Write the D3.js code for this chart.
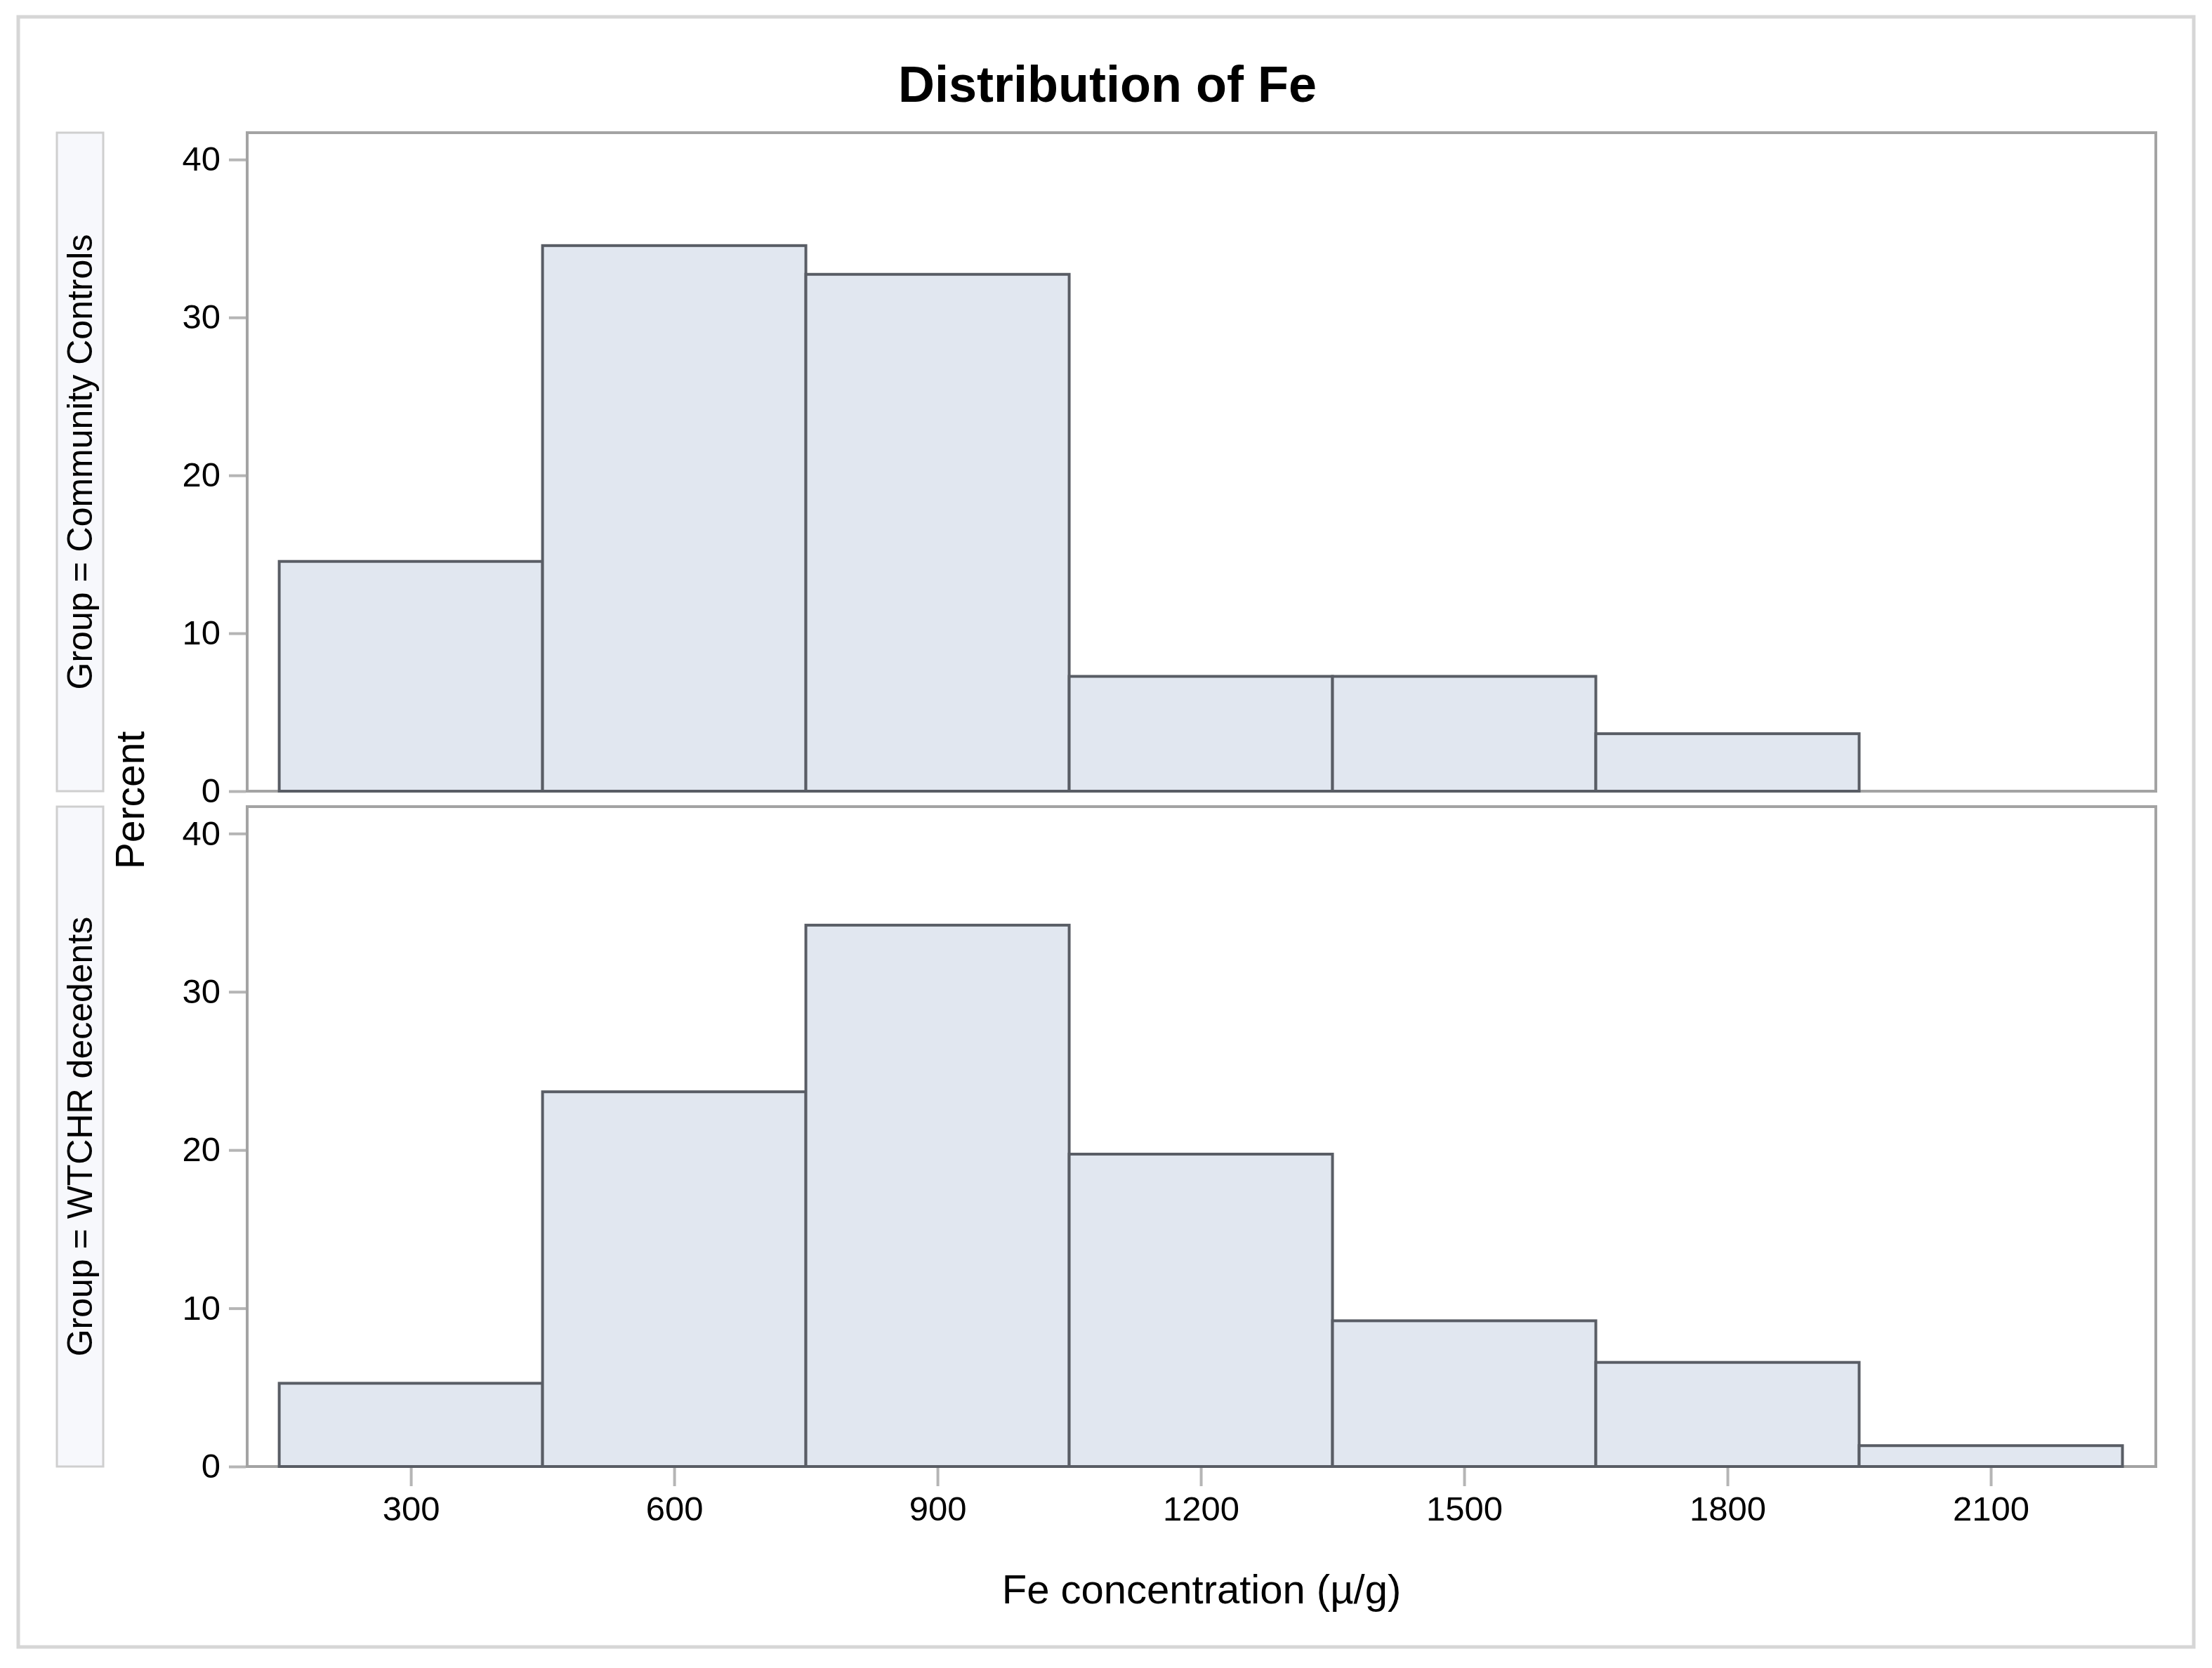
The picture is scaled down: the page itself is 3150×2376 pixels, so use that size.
<!DOCTYPE html>
<html>
<head>
<meta charset="utf-8">
<script src="https://cdn.jsdelivr.net/npm/d3@7"></script>
<style>
  html, body { margin: 0; padding: 0; background: #fff; }
  text { font-family: "Liberation Sans", Arial, sans-serif; }
</style>
</head>
<body>
<svg id="chart" width="3150" height="2376"></svg>
<script>
// ---- data ----
const binEdges = [150, 450, 750, 1050, 1350, 1650, 1950, 2250];
const groups = ["Community Controls", "WTCHR decedents"];
const communityPercent = [14.55, 34.55, 32.73, 7.27, 7.27, 3.64, 0];
const wtchrPercent = [5.26, 23.68, 34.21, 19.74, 9.21, 6.58, 1.32];
const xTicks = [300, 600, 900, 1200, 1500, 1800, 2100];
const yTicks = [0, 10, 20, 30, 40];
const title = "Distribution of Fe";
const xLabel = "Fe concentration (µ/g)";
const yLabel = "Percent";

const seriesList = [communityPercent, wtchrPercent];

const svg = d3.select("#chart");

// outer border
svg.append("rect").attr("x", 26).attr("y", 24).attr("width", 3098).attr("height", 2322)
  .attr("fill", "#fff").attr("stroke", "#d6d6d6").attr("stroke-width", 5);

svg.append("text").attr("x", 1577).attr("y", 145).attr("text-anchor", "middle")
  .attr("font-size", 72).attr("font-weight", "bold").attr("fill", "#000").text(title);

const left = 352, right = 3070;
const panels = [{top: 189, bottom: 1127}, {top: 1149, bottom: 2089}];

const x = d3.scaleLinear().domain([113.5, 2288]).range([left, right]);

panels.forEach((p, i) => {
  const y = d3.scaleLinear().domain([0, 41.7]).range([p.bottom, p.top]);
  const g = svg.append("g");

  // strip
  g.append("rect").attr("x", 81).attr("y", p.top).attr("width", 66).attr("height", p.bottom - p.top)
    .attr("fill", "#f7f8fc").attr("stroke", "#cfcfcf").attr("stroke-width", 3);
  g.append("text")
    .attr("transform", `translate(131,${(p.top + p.bottom) / 2}) rotate(-90)`)
    .attr("text-anchor", "middle").attr("font-size", 50).attr("fill", "#000")
    .text("Group = " + groups[i]);

  // frame
  g.append("rect").attr("x", left).attr("y", p.top).attr("width", right - left).attr("height", p.bottom - p.top)
    .attr("fill", "none").attr("stroke", "#a3a3a3").attr("stroke-width", 4);

  // bars
  const vals = seriesList[i];
  const bins = vals.map((v, k) => ({x0: binEdges[k], x1: binEdges[k + 1], v}));
  g.selectAll("rect.bar").data(bins).enter().append("rect").attr("class", "bar")
    .attr("x", d => x(d.x0)).attr("width", d => x(d.x1) - x(d.x0))
    .attr("y", d => y(d.v) - (d.v > 0 ? 0 : 4)).attr("height", d => Math.max(0, y(0) - y(d.v)))
    .attr("fill", "#e1e7f0")
    .attr("stroke", d => d.v > 0 ? "#595d65" : "#c4c7cc").attr("stroke-width", d => d.v > 0 ? 4 : 3);

  // y axis
  const ya = d3.axisLeft(y).tickValues(yTicks).tickSize(24).tickPadding(12).tickFormat(d3.format("d"));
  const yg = g.append("g").attr("transform", `translate(${left - 2},0)`).call(ya);
  yg.select(".domain").remove();
  yg.selectAll(".tick line").attr("stroke", "#b5b5b5").attr("stroke-width", 4);
  yg.selectAll(".tick text").attr("font-size", 49).attr("fill", "#000")
    .attr("font-family", "Liberation Sans, Arial, sans-serif");

  if (i === 1) {
    const xa = d3.axisBottom(x).tickValues(xTicks).tickSize(26).tickPadding(14).tickFormat(d3.format("d"));
    const xg = g.append("g").attr("transform", `translate(0,${p.bottom + 2})`).call(xa);
    xg.select(".domain").remove();
    xg.selectAll(".tick line").attr("stroke", "#b5b5b5").attr("stroke-width", 4);
    xg.selectAll(".tick text").attr("font-size", 49).attr("fill", "#000")
      .attr("font-family", "Liberation Sans, Arial, sans-serif");
  }
});

svg.append("text").attr("x", (left + right) / 2).attr("y", 2284).attr("text-anchor", "middle")
  .attr("font-size", 58).attr("fill", "#000").text(xLabel);

svg.append("text").attr("transform", "translate(205,1140) rotate(-90)").attr("text-anchor", "middle")
  .attr("font-size", 57).attr("fill", "#000").text(yLabel);
</script>
</body>
</html>
